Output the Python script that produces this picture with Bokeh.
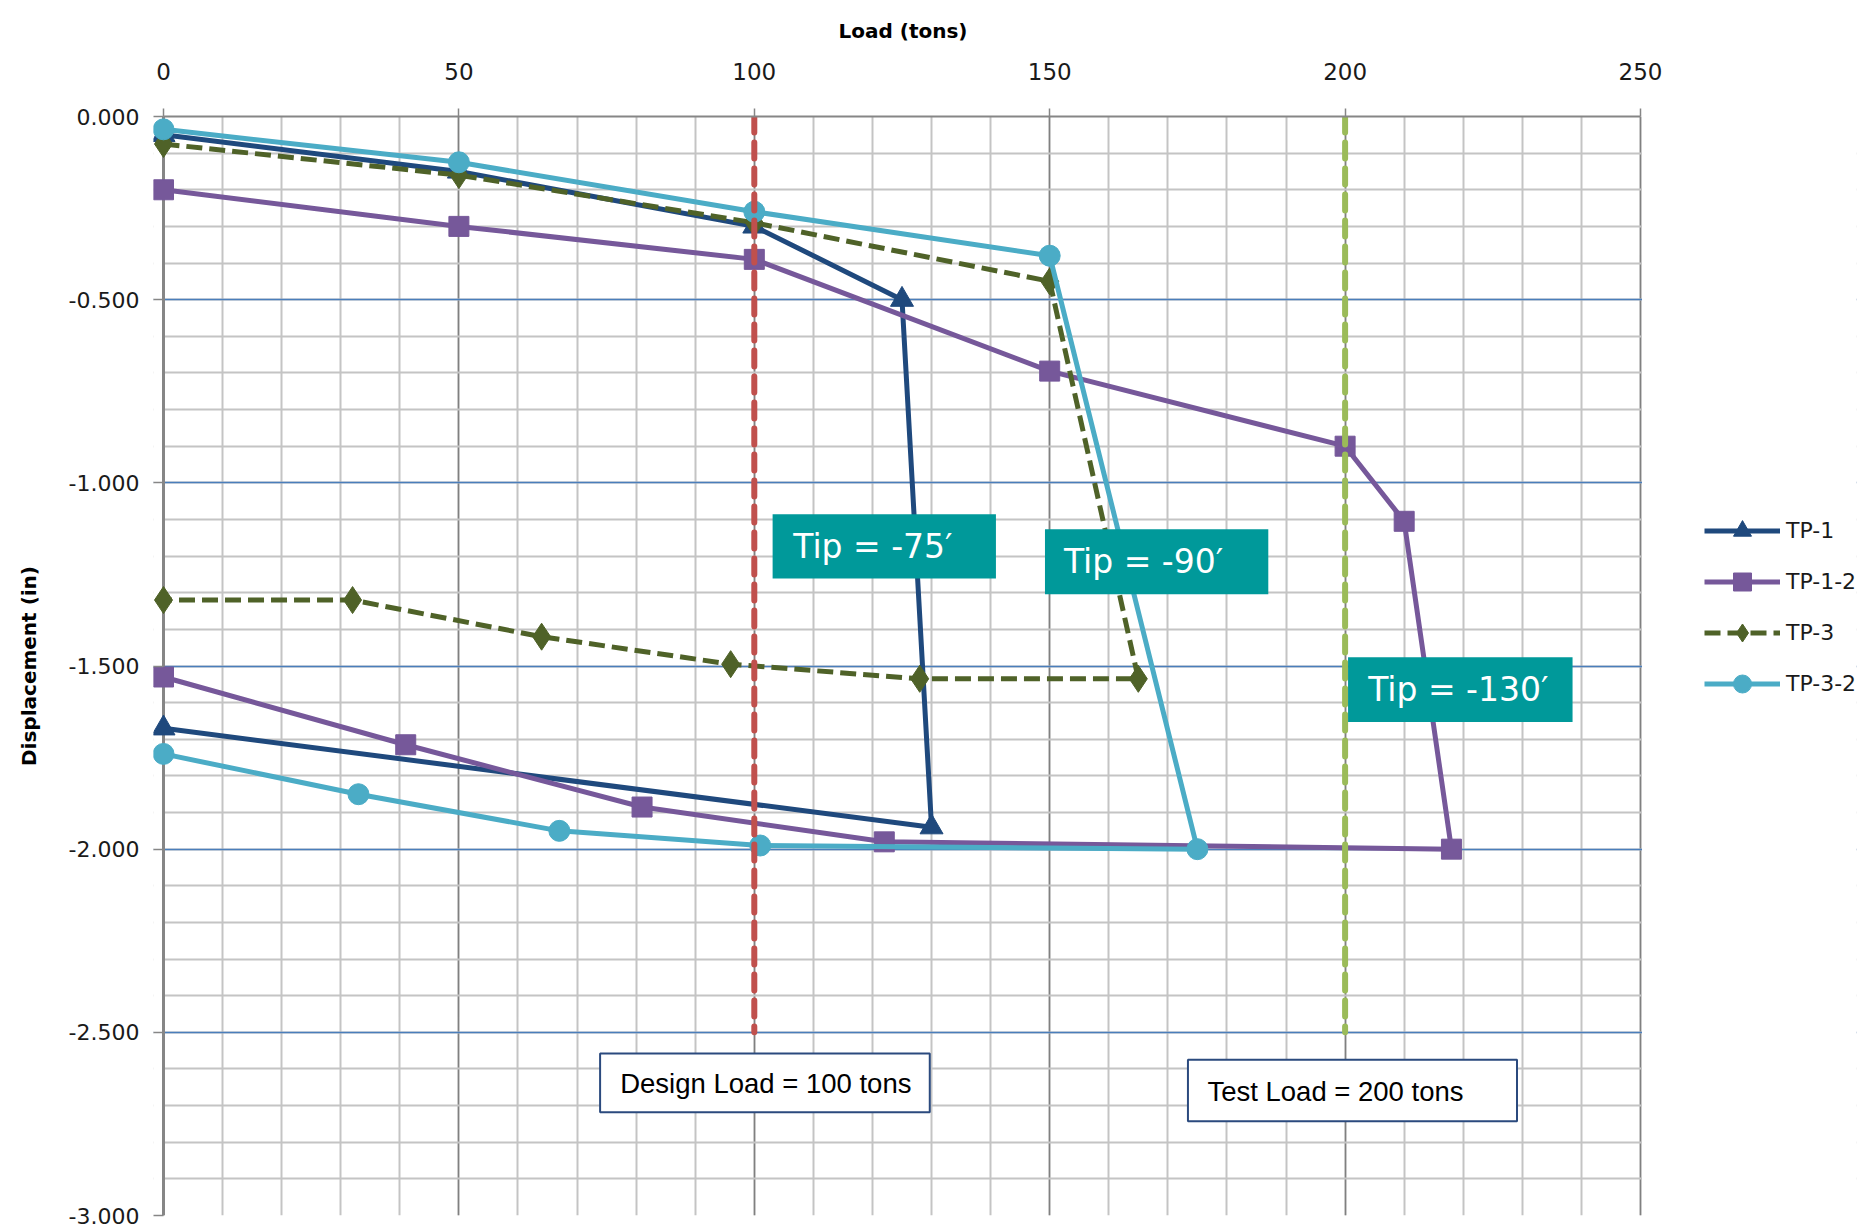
from bokeh.plotting import figure
from bokeh.models import (Range1d, SingleIntervalTicker, NumeralTickFormatter,
                          Legend, LegendItem, Label, BoxAnnotation, Span)
from bokeh.embed import file_html
from bokeh.resources import INLINE

# ---------------- data ----------------
tp1_load = [0, 50, 100, 125, 130, 0]
tp1_disp = [-0.05, -0.15, -0.30, -0.50, -1.94, -1.67]

tp12_load = [0, 50, 100, 150, 200, 210, 218, 122, 81, 41, 0]
tp12_disp = [-0.20, -0.30, -0.39, -0.695, -0.90, -1.105, -2.00, -1.98, -1.885, -1.715, -1.53]

tp3_load = [0, 50, 100, 150, 165, 128, 96, 64, 32, 0]
tp3_disp = [-0.075, -0.16, -0.29, -0.45, -1.535, -1.535, -1.495, -1.42, -1.32, -1.32]

tp32_load = [0, 50, 100, 150, 175, 101, 67, 33, 0]
tp32_disp = [-0.035, -0.125, -0.26, -0.38, -2.00, -1.99, -1.95, -1.85, -1.74]

design_load = 100
test_load = 200
load_min, load_max = 0, 250
disp_min, disp_max = -3, 0
load_ticks_interval = 50
disp_ticks_interval = 0.5

# ---------------- figure geometry ----------------
W, H = 1860, 1230
AX0, FT = 163, 116         # pixel position of load=0, frame top
AXW, FH = 1477, 1099       # pixel width of the 0..250 axis, frame height
PAD = 10                   # frame extends a bit left of load=0 so markers are not clipped
FL = AX0 - PAD
BR = 4
FW = W - FL - BR
px_per_unit = AXW / (load_max - load_min)
x_start = load_min - PAD / px_per_unit
x_end = x_start + FW / px_per_unit

p = figure(width=W, height=H, x_range=Range1d(x_start, x_end), y_range=Range1d(disp_min, disp_max),
           x_axis_location="above", output_backend="svg", toolbar_location=None,
           min_border_left=FL, min_border_top=FT,
           min_border_right=BR, min_border_bottom=H - FT - FH)
p.outline_line_color = None
p.background_fill_color = "white"

p.xaxis.ticker = SingleIntervalTicker(interval=load_ticks_interval, num_minor_ticks=5)
p.yaxis.ticker = SingleIntervalTicker(interval=disp_ticks_interval, num_minor_ticks=5)
p.yaxis.formatter = NumeralTickFormatter(format="0.000")
p.xaxis.bounds = (load_min, load_max)
p.xgrid.bounds = (load_min, load_max)

for ax in (p.xaxis, p.yaxis):
    ax.axis_line_color = "#868686"
    ax.major_tick_line_color = "#868686"
    ax.major_tick_line_width = 1.5
    ax.minor_tick_in = 0
    ax.minor_tick_out = 0
    ax.major_label_text_font = "DejaVu Sans"
    ax.major_label_text_color = "#1a1a1a"
    ax.axis_label_text_font = "DejaVu Sans"
    ax.axis_label_text_font_style = "bold"
    ax.axis_label_text_font_size = "20px"
    ax.axis_label_text_color = "black"

p.xaxis.axis_line_width = 2
p.xaxis.major_tick_in = 0
p.xaxis.major_tick_out = 8
p.xaxis.major_label_text_font_size = "23px"
p.xaxis.major_label_standoff = 29

# y axis sits at the frame edge (PAD px left of load=0); its ticks reach in to load=0
p.yaxis.axis_line_color = None
p.yaxis.major_tick_in = PAD
p.yaxis.major_tick_out = 0
p.yaxis.major_label_text_font_size = "22px"
p.yaxis.major_label_standoff = 14
p.yaxis.axis_label = "Displacement (in)"
p.yaxis.axis_label_standoff = 25

# x axis title, centred over the 0..250 axis
p.title.text = "Load (tons)"
p.title.align = "left"
p.title.offset = AX0 - FL + 675
p.title.text_font = "DejaVu Sans"
p.title.text_font_style = "bold"
p.title.text_font_size = "20px"
p.title.text_color = "black"
p.title.vertical_align = "top"
p.title.standoff = 30

p.xgrid.grid_line_color = "#808080"
p.xgrid.grid_line_width = 1.5
p.xgrid.minor_grid_line_color = "#C4C4C4"
p.xgrid.minor_grid_line_width = 2
p.ygrid.grid_line_color = "#4A7EBB"
p.ygrid.grid_line_width = 1.5
p.ygrid.minor_grid_line_color = "#C4C4C4"
p.ygrid.minor_grid_line_width = 2

# white covers outside the 0..250 load span (legend area on the right, pad on the left)
p.add_layout(BoxAnnotation(left=load_max + 0.25, fill_color="white", fill_alpha=1,
                           line_color=None, level="underlay"))
p.add_layout(BoxAnnotation(right=load_min - 0.1, fill_color="white", fill_alpha=1,
                           line_color=None, level="underlay"))
# value axis line at load = 0
p.add_layout(Span(location=load_min, dimension="height", line_color="#868686",
                  line_width=3, level="underlay"))

# ---------------- series ----------------
c_tp1 = "#1F497D"
c_tp12 = "#76589A"
c_tp3 = "#4F6228"
c_tp32 = "#4BACC6"
LW = 5

items = []
l = p.line(tp1_load, tp1_disp, line_color=c_tp1, line_width=LW, line_join="round")
s = p.scatter(tp1_load, tp1_disp, marker="triangle", size=23, fill_color=c_tp1, line_color=c_tp1)
items.append(LegendItem(label="TP-1", renderers=[l, s]))

l = p.line(tp12_load, tp12_disp, line_color=c_tp12, line_width=LW, line_join="round")
s = p.scatter(tp12_load, tp12_disp, marker="square", size=20, fill_color=c_tp12, line_color=c_tp12)
items.append(LegendItem(label="TP-1-2", renderers=[l, s]))

l = p.line(tp3_load, tp3_disp, line_color=c_tp3, line_width=LW, line_dash="16 7")
s = p.scatter(tp3_load, tp3_disp, marker="diamond", size=27, fill_color=c_tp3, line_color=c_tp3)
items.append(LegendItem(label="TP-3", renderers=[l, s]))

l = p.line(tp32_load, tp32_disp, line_color=c_tp32, line_width=LW, line_join="round")
s = p.scatter(tp32_load, tp32_disp, marker="circle", size=21, fill_color=c_tp32, line_color=c_tp32)
items.append(LegendItem(label="TP-3-2", renderers=[l, s]))

# reference load lines
p.segment(x0=[design_load], y0=[0], x1=[design_load], y1=[-2.5], line_color="#C0504D",
          line_width=6, line_dash="16 10", line_cap="round")
p.segment(x0=[test_load], y0=[0], x1=[test_load], y1=[-2.5], line_color="#9BBB59",
          line_width=6, line_dash="16 10", line_cap="round")

# teal tip boxes
teal = "#00999A"
p.quad(left=[103.1, 149.2, 200.5], right=[140.9, 187.0, 238.5],
       top=[-1.086, -1.127, -1.476], bottom=[-1.261, -1.304, -1.653],
       fill_color=teal, line_color=None)
for tx, ty, txt in [(106.6, -1.174, "Tip = -75\u2032"), (152.4, -1.216, "Tip = -90\u2032"),
                    (203.9, -1.564, "Tip = -130\u2032")]:
    p.add_layout(Label(x=tx, y=ty, text=txt, text_color="white", text_font="DejaVu Sans",
                       text_font_size="33px", text_baseline="middle", text_align="left"))

# load text boxes
p.quad(left=[73.9, 173.4], right=[129.7, 229.1], top=[-2.558, -2.575], bottom=[-2.718, -2.743],
       fill_color="white", line_color="#2B4A7E", line_width=2)
for tx, ty, txt in [(77.3, -2.639, "Design Load = 100 tons"), (176.7, -2.661, "Test Load = 200 tons")]:
    p.add_layout(Label(x=tx, y=ty, text=txt, text_color="black", text_font="Liberation Sans",
                       text_font_size="27.5px", text_baseline="middle", text_align="left"))

legend = Legend(items=items, location=(1541 + PAD, 509), padding=0, margin=0,
                glyph_width=76, glyph_height=45, label_height=45, spacing=6,
                label_standoff=6, label_text_font="DejaVu Sans", label_text_font_size="22px",
                label_text_color="#1a1a1a", border_line_color=None, background_fill_alpha=0)
p.add_layout(legend)

open("out.html", "w").write(file_html(p, INLINE))
